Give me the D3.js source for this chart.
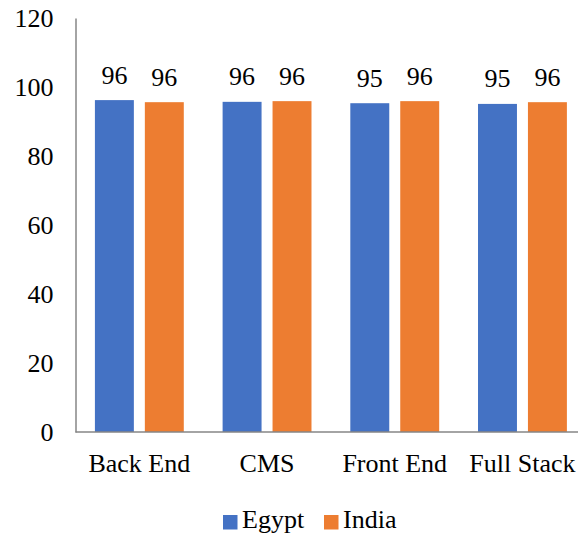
<!DOCTYPE html>
<html>
<head>
<meta charset="utf-8">
<script src="https://cdn.jsdelivr.net/npm/d3@7"></script>
<style>
  html, body { margin: 0; padding: 0; background: #fff; }
  svg { display: block; }
</style>
</head>
<body>
<svg id="chart" width="587" height="533"></svg>
<script>
// Skill categories and per-country scores
const categories = ["Back End", "CMS", "Front End", "Full Stack"];
const seriesNames = ["Egypt", "India"];
const egyptValues = [96.2, 95.7, 95.3, 95.1];
const indiaValues = [95.6, 95.9, 95.9, 95.6];
const yTicks = [0, 20, 40, 60, 80, 100, 120];
const colors = ["#4472C4", "#ED7D31"];

const rows = categories.map((c, i) => ({
  category: c,
  values: [
    { series: seriesNames[0], value: egyptValues[i] },
    { series: seriesNames[1], value: indiaValues[i] }
  ]
}));

const serifFont = "'Liberation Serif', 'DejaVu Serif', serif";
const svg = d3.select("#chart");
const fontSize = 26;
const plotLeft = 75.5, plotRight = 586.3, plotTop = 18, plotBottom = 432;

const y = d3.scaleLinear().domain([0, 120]).range([plotBottom, plotTop]);
const x0 = d3.scaleBand().domain(categories).range([plotLeft, plotRight]).padding(0);
const x1 = d3.scaleBand().domain(seriesNames)
  .range([x0.step() * 0.152, x0.step() * 0.848])
  .paddingInner(0.22).paddingOuter(0);
const color = d3.scaleOrdinal().domain(seriesNames).range(colors);

// Y axis: line only, labels to the left
const yAxis = d3.axisLeft(y).tickValues(yTicks).tickSize(0).tickPadding(22);
const yg = svg.append("g").attr("transform", `translate(${plotLeft},0)`).call(yAxis);
yg.select(".domain").attr("stroke", "#868686").attr("stroke-width", 1.5);
yg.selectAll(".tick text")
  .style("font-family", serifFont)
  .style("font-size", fontSize + "px")
  .attr("fill", "#000")
  .attr("dy", "0.33em");

// Bars
const groups = svg.append("g").selectAll("g")
  .data(rows).join("g")
  .attr("transform", d => `translate(${x0(d.category)},0)`);

groups.selectAll("rect")
  .data(d => d.values).join("rect")
  .attr("x", d => x1(d.series))
  .attr("width", x1.bandwidth())
  .attr("y", d => y(d.value))
  .attr("height", d => y(0) - y(d.value))
  .attr("fill", d => color(d.series));

// Value labels
groups.selectAll("text.val")
  .data(d => d.values).join("text")
  .attr("class", "val")
  .attr("x", d => x1(d.series) + x1.bandwidth() / 2)
  .attr("y", d => y(d.value) - 16.5)
  .attr("text-anchor", "middle")
  .style("font-family", serifFont)
  .style("font-size", fontSize + "px")
  .text(d => d3.format(".0f")(d.value));

// X axis
const xAxis = d3.axisBottom(x0).tickSize(0).tickPadding(22);
const xg = svg.append("g").attr("transform", `translate(0,${plotBottom})`).call(xAxis);
xg.select(".domain").remove();
xg.append("line")
  .attr("x1", plotLeft).attr("x2", 578)
  .attr("stroke", "#868686").attr("stroke-width", 1.5);
xg.selectAll(".tick text")
  .style("font-family", serifFont)
  .style("font-size", fontSize + "px")
  .attr("fill", "#000")
  .attr("dy", "0.71em");

// Legend
const legend = svg.append("g").attr("transform", "translate(223,515)");
const legendX = d3.scaleOrdinal().domain(seriesNames).range([0, 101]);
const items = legend.selectAll("g").data(seriesNames).join("g")
  .attr("transform", d => `translate(${legendX(d)},0)`);
items.append("rect")
  .attr("width", 14.5).attr("height", 14.5)
  .attr("fill", d => color(d));
items.append("text")
  .attr("x", 19).attr("y", 12.5)
  .style("font-family", serifFont)
  .style("font-size", fontSize + "px")
  .text(d => d);
</script>
</body>
</html>
